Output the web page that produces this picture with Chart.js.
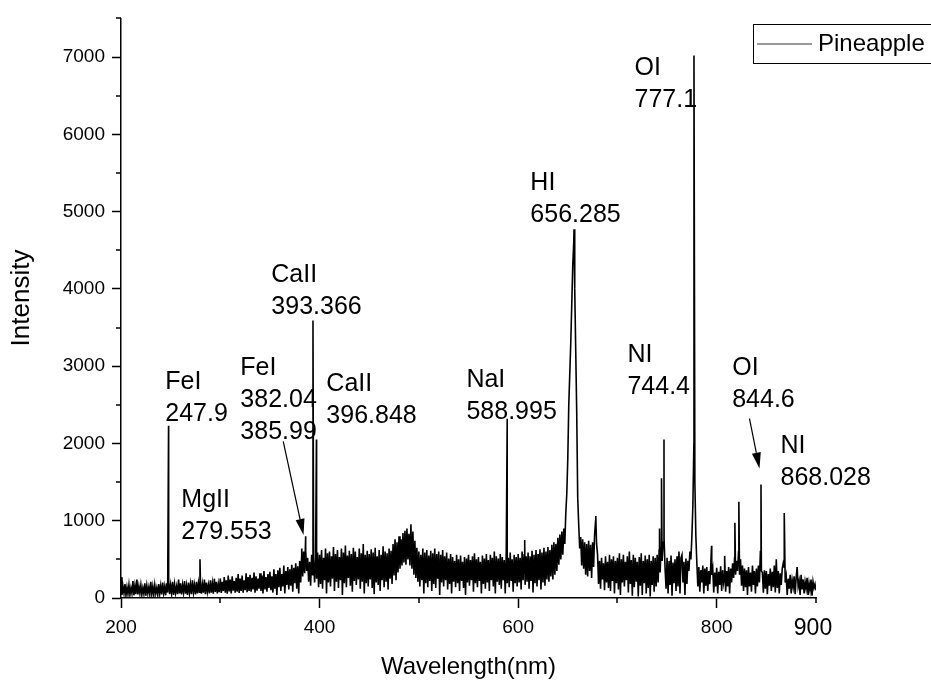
<!DOCTYPE html>
<html>
<head>
<meta charset="utf-8">
<title>Pineapple LIBS spectrum</title>
<script src="https://cdn.jsdelivr.net/npm/chart.js@4.4.0/dist/chart.umd.min.js"></script>
<style>
	html, body { margin: 0; padding: 0; background: #fff; }
</style>
</head>
<body>
<canvas id="spectrum-chart" width="931" height="682"></canvas>
<script>
const FONT = `"Liberation Sans", Arial, sans-serif`;

// baseline spectrum, one reading per nm starting at NOISE_START
const NOISE_START = 200;
const noise = [
	270, 40, 150, 60, 180, 30, 140, 50, 170, 40,
	130, 60, 220, 35, 160, 50, 240, 45, 150, 60,
	170, 40, 130, 55, 190, 30, 160, 60, 140, 45,
	210, 50, 150, 35, 170, 60, 130, 40, 180, 55,
	160, 45, 200, 60, 150, 35, 190, 70, 230, 50,
	170, 60, 210, 40, 180, 65, 150, 50, 240, 60,
	190, 45, 170, 70, 220, 55, 160, 40, 200, 65,
	180, 50, 230, 70, 170, 45, 210, 60, 190, 75,
	220, 55, 180, 70, 240, 50, 200, 80, 170, 60,
	230, 70, 190, 55, 250, 80, 210, 60, 180, 75,
	250, 65, 210, 90, 270, 70, 230, 55, 290, 85,
	240, 60, 280, 95, 220, 70, 260, 80, 310, 65,
	250, 90, 290, 70, 230, 100, 320, 75, 270, 90,
	300, 80, 260, 110, 330, 70, 280, 95, 250, 120,
	320, 90, 290, 60, 350, 110, 270, 80, 310, 130,
	340, 100, 280, 70, 370, 120, 310, 40, 360, 140,
	390, 90, 310, 150, 420, 60, 350, 170, 400, 110,
	370, 160, 430, 80, 390, 190, 450, 120, 410, 60,
	480, 200, 560, 280, 600, 320, 620, 350, 520, 210,
	470, 160, 560, 300, 480, 200, 530, 250, 590, 140,
	560, 180, 620, 120, 520, 230, 640, 60, 580, 200,
	600, 150, 540, 250, 660, 90, 570, 210, 620, 130,
	530, 230, 640, 40, 590, 190, 680, 140, 550, 260,
	610, 160, 570, 80, 650, 220, 600, 170, 530, 240,
	640, 120, 580, 210, 700, 60, 560, 190, 610, 150,
	570, 240, 630, 130, 590, 50, 650, 200, 540, 170,
	620, 90, 560, 230, 670, 140, 600, 210, 580, 110,
	640, 250, 610, 180, 700, 290, 760, 230, 720, 330,
	800, 380, 760, 420, 840, 460, 870, 430, 900, 500,
	830, 420, 955, 380, 860, 300, 740, 260, 650, 210,
	600, 150, 560, 230, 640, 60, 590, 190, 620, 140,
	550, 220, 610, 90, 580, 180, 640, 130, 570, 250,
	600, 40, 560, 200, 620, 150, 540, 230, 590, 110,
	510, 180, 570, 60, 530, 210, 480, 140, 560, 190,
	500, 90, 550, 220, 470, 130, 530, 40, 510, 200,
	560, 160, 490, 230, 540, 80, 580, 190, 500, 140,
	530, 220, 470, 60, 550, 180, 510, 120, 570, 200,
	490, 90, 560, 230, 520, 150, 600, 60, 540, 210,
	510, 170, 570, 120, 530, 230, 490, 60, 560, 190,
	520, 140, 590, 220, 500, 80, 560, 190, 530, 150,
	570, 200, 520, 110, 600, 230, 560, 170, 540, 210,
	590, 120, 540, 220, 610, 70, 560, 190, 620, 150,
	570, 230, 630, 110, 590, 200, 650, 160, 600, 240,
	660, 210, 620, 280, 690, 240, 720, 300, 700, 350,
	780, 430, 820, 500, 860, 560, 900, 700, 1100, 1350,
	1800, 2500, 2900, 3300, 3800, 4300, 4600, 4000, 3200, 2400,
	1300, 950, 640, 790, 420, 760, 380, 720, 300, 700,
	280, 740, 350, 690, 260, 720, 400, 820, 1000, 700,
	560, 180, 480, 120, 520, 240, 450, 100, 540, 200,
	470, 130, 560, 90, 500, 220, 540, 60, 480, 190,
	520, 110, 580, 40, 500, 200, 560, 150, 470, 230,
	540, 70, 600, 180, 490, 30, 560, 140, 520, 210,
	470, 20, 530, 160, 580, 40, 480, 190, 550, 60,
	500, 130, 560, 20, 480, 170, 540, 80, 520, 150,
	560, 200, 620, 330, 650, 480, 720, 760, 380, 120,
	520, 60, 480, 170, 550, 30, 460, 190, 500, 90,
	540, 150, 600, 60, 520, 560, 200, 470, 40, 510,
	180, 480, 350, 600, 500, 800, 1200, 2000, 1500, 800,
	450, 150, 400, 80, 360, 200, 420, 60, 380, 160,
	400, 90, 350, 180, 420, 300, 380, 70, 330, 150,
	390, 60, 340, 170, 410, 90, 360, 200, 300, 80,
	350, 150, 400, 60, 380, 200, 450, 260, 520, 300,
	480, 350, 600, 300, 500, 160, 420, 90, 380, 140,
	360, 40, 400, 150, 330, 80, 420, 170, 350, 60,
	380, 150, 420, 200, 600, 350, 330, 70, 360, 120,
	350, 50, 310, 160, 380, 90, 340, 140, 420, 70,
	500, 130, 350, 60, 320, 170, 380, 450, 400, 200,
	280, 40, 250, 120, 300, 60, 230, 140, 280, 50,
	260, 400, 150, 220, 40, 300, 110, 240, 60, 210,
	120, 260, 40, 190, 100, 240, 30, 210, 130, 180,
	100,
];

// emission lines on top of the baseline
const lineNm = [247.9, 279.553, 382.04, 385.99, 393.366, 396.848, 588.995, 606.6, 656.285, 678.2, 742.4, 744.4, 746.9, 777.1, 794.8, 808.0, 818.3, 822.3, 844.6, 868.028, 881.5];
const lineI = [2230, 500, 640, 800, 3590, 2050, 2320, 750, 4770, 1060, 900, 1550, 2050, 7020, 675, 545, 975, 1245, 1470, 1100, 400];

const xMajor = [200, 400, 600, 800];
const xMinor = [300, 500, 700, 900];
const xEndLabel = `900`;
const yMajor = [0, 1000, 2000, 3000, 4000, 5000, 6000, 7000];
const yMinor = [500, 1500, 2500, 3500, 4500, 5500, 6500, 7500];

// line ids: text rows, left edge (nm) and first baseline (intensity)
const peakLabels = [
	{ rows: [`FeI`, `247.9`], nm: 244.6, at: 2710 },
	{ rows: [`MgII`, `279.553`], nm: 260.8, at: 1176 },
	{ rows: [`FeI`, `382.04`, `385.99`], nm: 320.2, at: 2890 },
	{ rows: [`CaII`, `393.366`], nm: 351.4, at: 4089 },
	{ rows: [`CaII`, `396.848`], nm: 406.8, at: 2684 },
	{ rows: [`NaI`, `588.995`], nm: 547.9, at: 2736 },
	{ rows: [`HI`, `656.285`], nm: 612.3, at: 5275 },
	{ rows: [`NI`, `744.4`], nm: 710.1, at: 3058 },
	{ rows: [`OI`, `777.1`], nm: 717.2, at: 6770 },
	{ rows: [`OI`, `844.6`], nm: 815.6, at: 2890 },
	{ rows: [`NI`, `868.028`], nm: 864.3, at: 1873 },
];
const peakArrows = [
	{ from: [363.4, 2028], to: [383.8, 816] },
	{ from: [833.0, 2320], to: [843.1, 1675] },
];

let points = noise.map((v, i) => ({ x: NOISE_START + i, y: v }));
lineNm.forEach((nm, i) => points.push({ x: nm, y: lineI[i] }));
points.sort((a, b) => a.x - b.x);

let drawArrow = (ctx, x0, y0, x1, y1) =>
{
	let ang = Math.atan2(y1 - y0, x1 - x0);
	let head = 16, half = 4.5;
	let bx = x1 - head * Math.cos(ang), by = y1 - head * Math.sin(ang);
	ctx.beginPath();
	ctx.moveTo(x0, y0);
	ctx.lineTo(bx, by);
	ctx.stroke();
	ctx.beginPath();
	ctx.moveTo(x1, y1);
	ctx.lineTo(bx + half * Math.sin(ang), by - half * Math.cos(ang));
	ctx.lineTo(bx - half * Math.sin(ang), by + half * Math.cos(ang));
	ctx.closePath();
	ctx.fill();
};

// minor ticks, axis title, end label, peak ids, arrows and the legend box
const extrasPlugin = {
	id: `spectrumExtras`,
	afterDraw: (chart) =>
	{
		let ctx = chart.ctx;
		let xs = chart.scales.x, ys = chart.scales.y;
		let area = chart.chartArea;
		ctx.save();
		ctx.strokeStyle = `#000`;
		ctx.fillStyle = `#000`;
		ctx.lineWidth = 1.5;

		ctx.beginPath();
		for (let v of xMinor)
		{
			let px = Math.round(xs.getPixelForValue(v));
			ctx.moveTo(px, area.bottom);
			ctx.lineTo(px, area.bottom + 5);
		}
		for (let v of yMinor)
		{
			let py = Math.round(ys.getPixelForValue(v));
			ctx.moveTo(area.left, py);
			ctx.lineTo(area.left - 5, py);
		}
		ctx.stroke();

		ctx.save();
		ctx.translate(22, 298);
		ctx.rotate(-Math.PI / 2);
		ctx.font = `26px ${FONT}`;
		ctx.textAlign = `center`;
		ctx.textBaseline = `middle`;
		ctx.fillText(`Intensity`, 0, 0);
		ctx.restore();

		ctx.font = `23px ${FONT}`;
		ctx.textAlign = `center`;
		ctx.textBaseline = `middle`;
		ctx.fillText(xEndLabel, xs.getPixelForValue(900) - 3, 629);

		ctx.font = `25px ${FONT}`;
		ctx.textAlign = `left`;
		ctx.textBaseline = `alphabetic`;
		for (let lab of peakLabels)
		{
			let px = xs.getPixelForValue(lab.nm), py = ys.getPixelForValue(lab.at);
			lab.rows.forEach((t, k) => ctx.fillText(t, px, py + k * 32));
		}

		ctx.lineWidth = 1.2;
		for (let a of peakArrows)
		{
			drawArrow(ctx,
				xs.getPixelForValue(a.from[0]), ys.getPixelForValue(a.from[1]),
				xs.getPixelForValue(a.to[0]), ys.getPixelForValue(a.to[1]));
		}

		// legend
		ctx.lineWidth = 1;
		ctx.strokeRect(753.5, 24.5, 190, 39);
		ctx.strokeStyle = `#333`;
		ctx.beginPath();
		ctx.moveTo(757, 44);
		ctx.lineTo(812, 44);
		ctx.stroke();
		ctx.textBaseline = `middle`;
		ctx.font = `24px ${FONT}`;
		ctx.fillText(`Pineapple`, 818, 44);
		ctx.restore();
	},
};

let spectrumChart = new Chart(document.getElementById(`spectrum-chart`).getContext(`2d`),
{
	type: `line`,
	data: {
		datasets: [
		{
			label: `Pineapple`,
			data: points,
			borderColor: `#000`,
			borderWidth: 1.6,
			pointRadius: 0,
			tension: 0,
			fill: false,
		},],
	},
	options: {
		responsive: false,
		animation: false,
		parsing: false,
		layout: { padding: { top: 15, right: 115, left: 0, bottom: 0 } },
		plugins: {
			legend: { display: false },
			tooltip: { enabled: false },
		},
		scales: {
			x: {
				type: `linear`,
				min: 200,
				max: 900,
				afterBuildTicks: (s) => { s.ticks = xMajor.map(v => ({ value: v })); },
				afterFit: (s) => { s.height = 84; },
				grid: { drawOnChartArea: false, tickLength: 10, tickColor: `#000`, tickWidth: 1.5 },
				border: { color: `#000`, width: 1.5 },
				ticks: {
					color: `#000`,
					font: { family: FONT, size: 19 },
					padding: 8,
					maxRotation: 0,
					autoSkip: false,
					callback: (v) => String(v),
				},
				title: {
					display: true,
					text: `Wavelength(nm)`,
					color: `#000`,
					font: { family: FONT, size: 24 },
					padding: { top: 0, bottom: 0 },
				},
			},
			y: {
				type: `linear`,
				min: 0,
				max: 7500,
				afterBuildTicks: (s) => { s.ticks = yMajor.map(v => ({ value: v })); },
				afterFit: (s) => { s.width = 121; },
				grid: { drawOnChartArea: false, tickLength: 9, tickColor: `#000`, tickWidth: 1.5 },
				border: { color: `#000`, width: 1.5 },
				ticks: {
					color: `#000`,
					font: { family: FONT, size: 19 },
					padding: 7,
					callback: (v) => String(v),
				},
				title: { display: false },
			},
		},
	},
	plugins: [extrasPlugin],
});
</script>
</body>
</html>
